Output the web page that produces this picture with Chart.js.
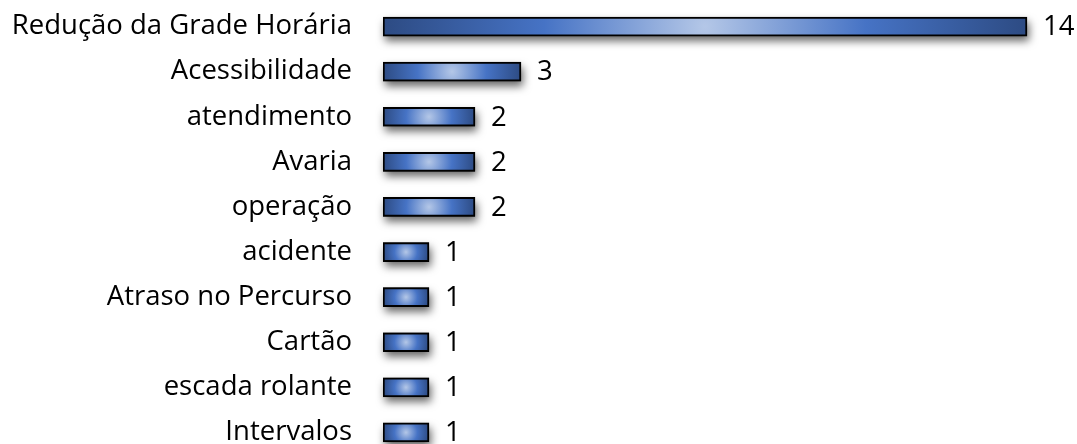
<!DOCTYPE html>
<html>
<head>
<meta charset="utf-8">
<script src="https://cdn.jsdelivr.net/npm/chart.js@4/dist/chart.umd.min.js"></script>
<style>
  html, body { margin: 0; padding: 0; background: #fff; overflow: hidden; }
  #wrap { position: relative; width: 1077px; height: 455px; }
</style>
</head>
<body>
<div id="wrap"><canvas id="chart"></canvas></div>
<script>
const categories = [
  'Redução da Grade Horária', 'Acessibilidade', 'atendimento', 'Avaria', 'operação',
  'acidente', 'Atraso no Percurso', 'Cartão', 'escada rolante', 'Intervalos'
];
const counts = [14, 3, 2, 2, 2, 1, 1, 1, 1, 1];

const FONT = 'Open Sans';
const FONT_SIZE = 27.5;

// light centre fading out to dark ends (radius = half the bar length)
function barGradient(context) {
  const chart = context.chart;
  const {x, y} = chart.scales;
  if (!x || !y || context.parsed === undefined) return '#4472c4';
  const x0 = x.getPixelForValue(0);
  const x1 = x.getPixelForValue(context.parsed.x);
  const cy = y.getPixelForValue(context.dataIndex);
  if (!isFinite(x0) || !isFinite(x1) || !isFinite(cy) || x1 <= x0) return '#4472c4';
  const cx = (x0 + x1) / 2;
  const r = (x1 - x0) / 2;
  const g = chart.ctx.createRadialGradient(cx, cy, 0, cx, cy, r);
  g.addColorStop(0, '#b4c7e7');
  g.addColorStop(0.5, '#4673c5');
  g.addColorStop(1, '#2d4b83');
  return g;
}

// drop shadow under the bars (bar element clips itself, so paint the shadow first)
const shadowPlugin = {
  id: 'barShadow',
  beforeDatasetsDraw(chart) {
    const ctx = chart.ctx;
    const meta = chart.getDatasetMeta(0);
    meta.data.forEach(bar => {
      const {x, y, base, height} = bar.getProps(['x', 'y', 'base', 'height'], true);
      ctx.save();
      ctx.shadowColor = 'rgba(0,0,0,0.6)';
      ctx.shadowBlur = 8;
      ctx.shadowOffsetX = 2;
      ctx.shadowOffsetY = 5;
      ctx.fillStyle = '#000';
      ctx.fillRect(Math.min(x, base), y - height / 2, Math.abs(x - base), height);
      ctx.restore();
    });
  }
};

// value at the end of each bar
const valueLabels = {
  id: 'valueLabels',
  afterDatasetsDraw(chart) {
    const ctx = chart.ctx;
    const meta = chart.getDatasetMeta(0);
    ctx.save();
    ctx.font = `${FONT_SIZE}px "${FONT}"`;
    ctx.fillStyle = '#000';
    ctx.textAlign = 'left';
    ctx.textBaseline = 'middle';
    meta.data.forEach((bar, i) => {
      ctx.fillText(String(counts[i]), bar.x + 16, bar.y + 1);
    });
    ctx.restore();
  }
};

new Chart(document.getElementById('chart'), {
  type: 'bar',
  data: {
    labels: categories,
    datasets: [{
      data: counts,
      backgroundColor: barGradient,
      borderColor: '#000',
      borderWidth: 2,
      borderSkipped: false,
      barThickness: 19
    }]
  },
  options: {
    indexAxis: 'y',
    responsive: true,
    maintainAspectRatio: false,
    animation: false,
    layout: { padding: { top: 4, right: 4, bottom: 0, left: 0 } },
    scales: {
      x: {
        display: false,
        min: 0,
        max: 15
      },
      y: {
        grid: { display: false, drawTicks: false },
        border: { display: false },
        ticks: {
          color: '#000',
          padding: 31,
          font: { family: FONT, size: FONT_SIZE }
        },
        afterFit(scale) {
          scale.width = 383;
          scale.paddingTop = 0;
          scale.paddingBottom = 0;
        }
      }
    },
    plugins: {
      legend: { display: false },
      tooltip: { enabled: false }
    }
  },
  plugins: [shadowPlugin, valueLabels]
});
</script>
</body>
</html>
